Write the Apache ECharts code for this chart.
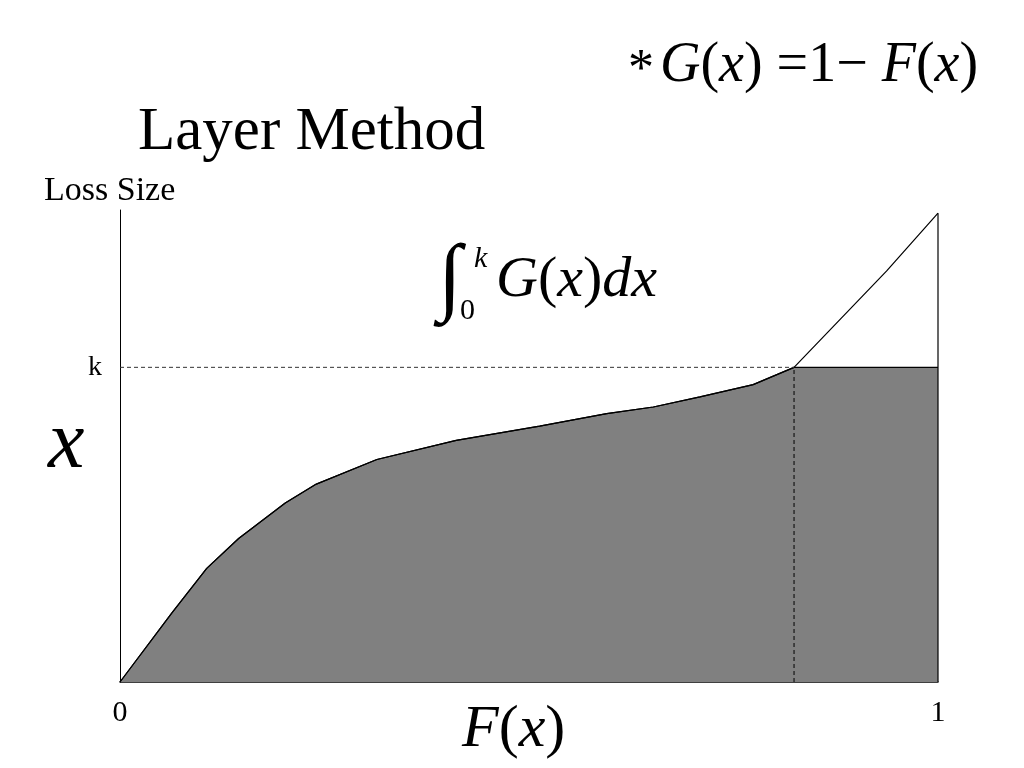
<!DOCTYPE html>
<html><head><meta charset="utf-8">
<script src="https://cdn.jsdelivr.net/npm/echarts@6/dist/echarts.min.js"></script>
<style>html,body{margin:0;padding:0;background:#fff}#c{width:1024px;height:768px}</style>
</head><body><div id="c"></div>
<script>
// F(x) values and loss size x (k = 1)
const fValues = [0, 0.063, 0.106, 0.145, 0.202, 0.240, 0.314, 0.411, 0.513, 0.595, 0.652, 0.709, 0.774, 0.824, 0.937, 1.0];
const lossValues = [0, 0.218, 0.361, 0.456, 0.569, 0.629, 0.707, 0.768, 0.813, 0.853, 0.874, 0.906, 0.945, 1.0, 1.306, 1.49];
const kValue = 1.0;
const fAtK = 0.824;
const xTickLabels = {0: '0', 1: '1'};
const yTickLabels = {1: 'k'};

const curve = fValues.map((f, i) => [f, lossValues[i]]);
const filled = fValues.map((f, i) => [f, Math.min(lossValues[i], kValue)]);
const serif = '"Liberation Serif", "DejaVu Serif", serif';

const chart = echarts.init(document.getElementById('c'));
chart.setOption({
  backgroundColor: '#fff',
  animation: false,
  grid: {left: 120, right: 86, top: 210, bottom: 86},
  xAxis: {
    type: 'value', min: 0, max: 1, interval: 1,
    axisLine: {show: true, lineStyle: {color: '#000', width: 1.5}},
    axisTick: {show: false}, splitLine: {show: false},
    axisLabel: {fontFamily: serif, fontSize: 30, color: '#000', margin: 16,
      formatter: v => xTickLabels[v] !== undefined ? xTickLabels[v] : ''}
  },
  yAxis: {
    type: 'value', min: 0, max: 1.5, interval: 0.5,
    axisLine: {show: true, lineStyle: {color: '#000', width: 1}},
    axisTick: {show: false}, splitLine: {show: false},
    axisLabel: {fontFamily: serif, fontSize: 28, color: '#000', margin: 18,
      formatter: v => yTickLabels[v] !== undefined ? yTickLabels[v] : ''}
  },
  series: [
    {type: 'line', data: filled, symbol: 'none', z: 2,
     lineStyle: {color: '#000', width: 1.2}, areaStyle: {color: '#808080', opacity: 1, origin: 0}},
    {type: 'line', data: curve, symbol: 'none', z: 3,
     lineStyle: {color: '#000', width: 1.2}},
    {type: 'line', data: [[1, 0], [1, lossValues[lossValues.length - 1]]], symbol: 'none', z: 3,
     lineStyle: {color: '#000', width: 1.2}},
    {type: 'line', data: [[0, kValue], [fAtK, kValue]], symbol: 'none', z: 4,
     lineStyle: {color: '#333', width: 1, type: [4, 3]}},
    {type: 'line', data: [[fAtK, 0], [fAtK, kValue]], symbol: 'none', z: 4,
     lineStyle: {color: '#000', width: 1, type: [4, 3]}}
  ],
  graphic: [
    {type: 'text', left: 138, top: 102, style: {text: 'Layer Method', font: '61px ' + serif, fill: '#000'}},
    {type: 'text', left: 44, top: 174, style: {text: 'Loss Size', font: '34px ' + serif, fill: '#000'}},
    {type: 'text', left: 628, top: 38, style: {
      text: '{s|*}{i|G}{n|(}{i|x}{n|) =1− }{i|F}{n|(}{i|x}{n|)}',
      rich: {
        s: {font: '52px ' + serif, fill: '#000', padding: [10, 6, 0, 0]},
        i: {font: 'italic 56px ' + serif, fill: '#000'},
        n: {font: '56px ' + serif, fill: '#000'}
      }}},
    {type: 'text', left: 438, top: 238, style: {text: '∫', font: 'italic 86px ' + serif, fill: '#000'}},
    {type: 'text', left: 474, top: 244, style: {text: 'k', font: 'italic 30px ' + serif, fill: '#000'}},
    {type: 'text', left: 460, top: 296, style: {text: '0', font: '30px ' + serif, fill: '#000'}},
    {type: 'text', left: 496, top: 252, style: {
      text: '{i|G}{n|(}{i|x}{n|)}{i|dx}',
      rich: {i: {font: 'italic 58px ' + serif, fill: '#000'}, n: {font: '58px ' + serif, fill: '#000'}}}},
    {type: 'text', left: 48, top: 404, style: {text: 'x', font: 'italic 82px ' + serif, fill: '#000'}},
    {type: 'text', left: 462, top: 700, style: {
      text: '{i|F}{n|(}{i|x}{n|)}',
      rich: {i: {font: 'italic 60px ' + serif, fill: '#000'}, n: {font: '60px ' + serif, fill: '#000'}}}}
  ]
});
</script></body></html>
